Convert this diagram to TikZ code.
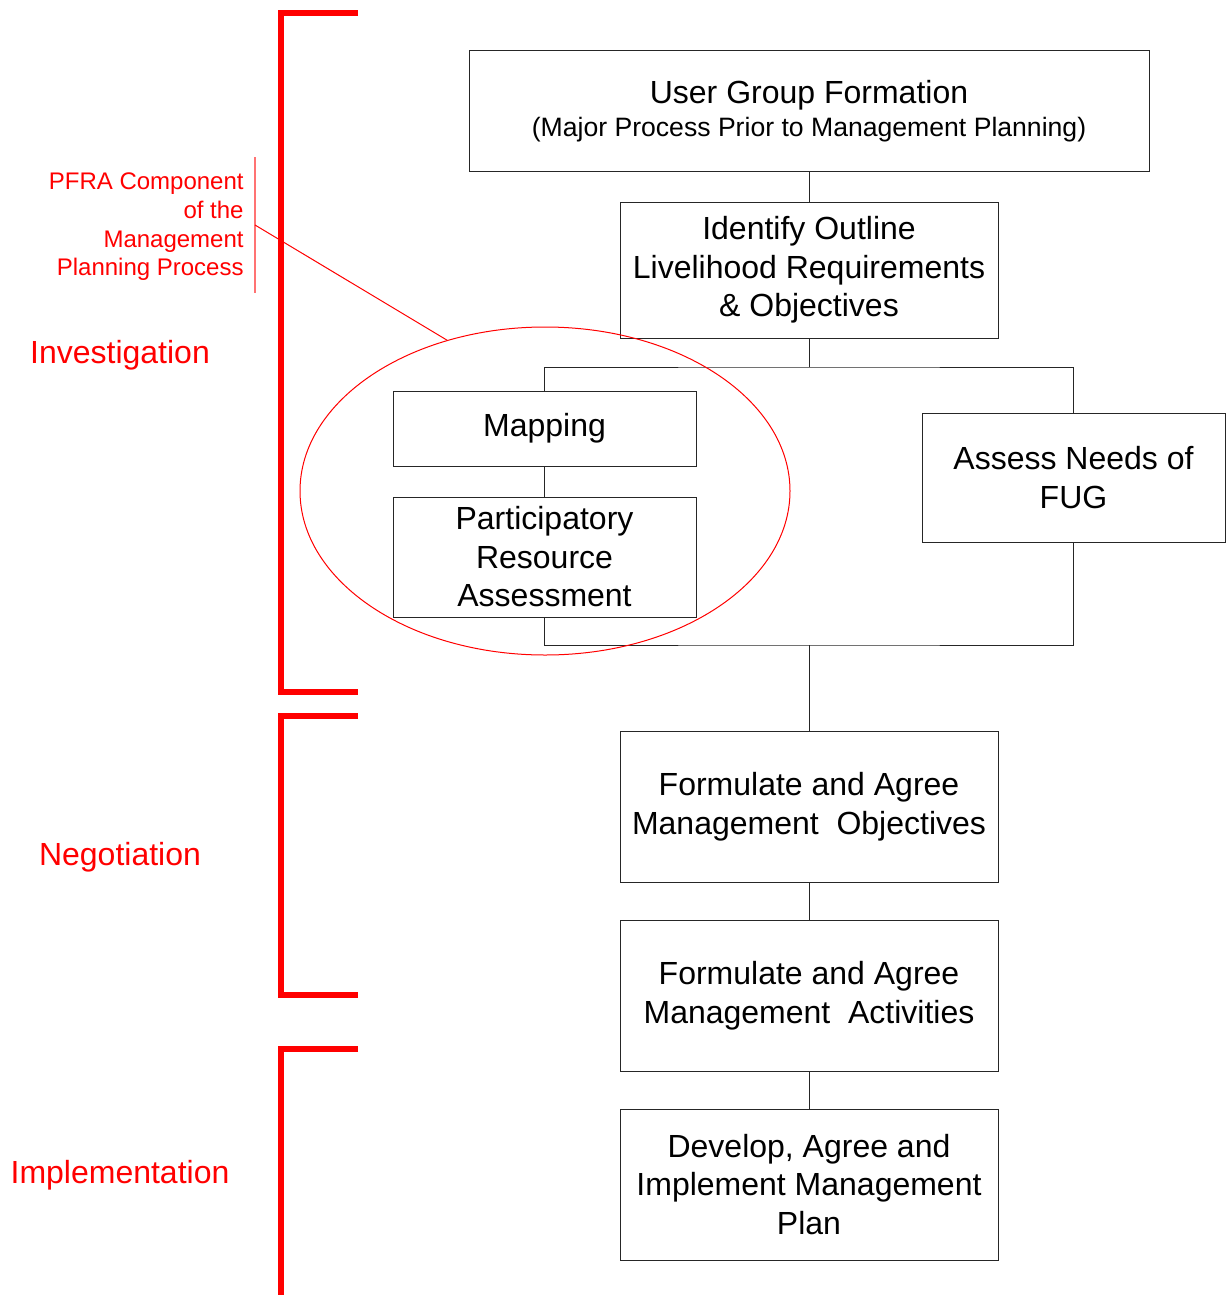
\documentclass[tikz,border=0pt]{standalone}
\usepackage{fontspec}
\setmainfont{Liberation Sans}
\usetikzlibrary{shapes.geometric}
\begin{document}
\begin{tikzpicture}[x=0.5pt,y=-0.5pt,
  box/.style={draw=black!85,line width=0.5pt,align=center,inner sep=0pt,
    font=\fontsize{16}{19.25}\selectfont},
  conn/.style={draw=black!85,line width=0.5pt},
  bracket/.style={draw=red,line width=2.6pt},
  redlbl/.style={text=red,inner sep=0pt,font=\fontsize{16}{19}\selectfont},
  thinred/.style={draw=red,line width=0.5pt}]
\useasboundingbox (0,0) rectangle (1229,1295);
% boxes
\node[box,minimum width=340pt,minimum height=60pt] (ugf) at (809,111)
  {User Group Formation\\[-3pt]{\fontsize{13.3}{16}\selectfont (Major Process Prior to Management Planning)}};
\node[box,minimum width=189pt,minimum height=68pt] (ident) at (809,270)
  {\raisebox{-1pt}{\parbox{189pt}{\centering Identify Outline\\Livelihood Requirements\\\& Objectives}}};
\node[box,minimum width=151.5pt,minimum height=37.5pt] (map) at (544.5,428.5) {Mapping};
\node[box,minimum width=151.5pt,minimum height=60pt] (pra) at (544.5,557)
  {Participatory\\Resource\\Assessment};
\node[box,minimum width=151.5pt,minimum height=64.5pt] (assess) at (1073.5,477.5)
  {Assess Needs of\\FUG};
\node[box,minimum width=189pt,minimum height=75.5pt] (fobj) at (809,806.5)
  {Formulate and Agree\\Management\ \ Objectives};
\node[box,minimum width=189pt,minimum height=75.5pt] (fact) at (809,995.5)
  {Formulate and Agree\\Management\ \ Activities};
\node[box,minimum width=189pt,minimum height=75.5pt] (dev) at (809,1184.5)
  {Develop, Agree and\\Implement Management\\Plan};
% connectors
\coordinate (j1) at (809,367);
\coordinate (j2) at (809,645);
\draw[conn] (ugf.south) -- (ident.south |- ugf.south) -- (ident.north);
\draw[conn] (ident.south) -- (j1);
\draw[conn] (map.north) |- (j1) -| (assess.north);
\draw[conn] (map.south) -- (pra.north);
\draw[conn] (pra.south) |- (j2) -| (assess.south);
\draw[conn] (j2) -- (fobj.north);
\draw[conn] (fobj.south) -- (fact.north);
\draw[conn] (fact.south) -- (dev.north);
% red brackets
\coordinate (b1t) at (358,13);
\coordinate (b1b) at (358,692);
\coordinate (b2t) at (358,716);
\coordinate (b2b) at (358,995);
\coordinate (b3t) at (358,1049);
\coordinate (b3b) at (281,1300);
\draw[bracket] (b1t) -| (281,692) -- (b1b);
\draw[bracket] (b2t) -| (281,995) -- (b2b);
\draw[bracket] (b3t) -| (b3b);
% phase labels
\node[redlbl] (inv) at (120,355) {Investigation};
\node[redlbl] (neg) at (120,857) {Negotiation};
\node[redlbl] (imp) at (120,1175) {Implementation};
% PFRA annotation
\node[text=red,inner sep=0pt,align=right,anchor=east,
  font=\fontsize{12}{14.35}\selectfont] (pfra) at (244,227)
  {PFRA Component\\of the\\Management\\Planning Process};
\coordinate (pt) at (255,157);
\coordinate (pb) at (255,293);
\coordinate (pm) at (255,225);
\draw[draw=red!55,line width=0.6pt] (pt) -- (pb);
\node[draw=red,line width=0.5pt,ellipse,inner sep=0pt,minimum width=245pt,minimum height=164pt] (ell) at (545,491) {};
\draw[thinred] (pm) -- (ell.123);
\end{tikzpicture}
\end{document}
